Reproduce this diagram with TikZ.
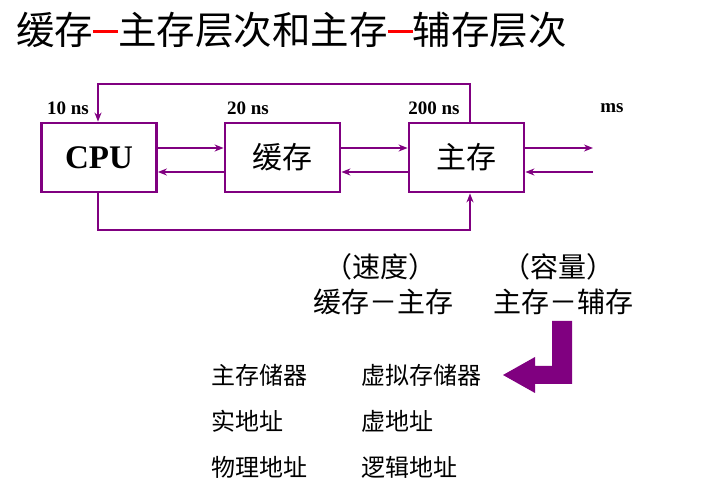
\documentclass[tikz,border=0pt]{standalone}
\usepackage{fontspec}
\setmainfont{Liberation Serif}
\newfontfamily\cjk{Noto Sans CJK SC}
\usetikzlibrary{arrows.meta,positioning}
\definecolor{plum}{HTML}{800080}
\tikzset{>={Stealth[length=9pt,width=7pt]}}
\tikzset{%
    unit/.style={draw=plum, line width=2.8pt, minimum width=115pt, minimum height=69pt, font=\cjk\fontsize{30}{30}\selectfont},
    link/.style={draw=plum, line width=2.6pt},
    time/.style={font=\bfseries\fontsize{19}{19}\selectfont},
    item/.style={anchor=west, font=\cjk\fontsize{24}{24}\selectfont}
}

\begin{document}
\begin{tikzpicture}[x=1pt,y=-1pt]
  \useasboundingbox (0,0) rectangle (702,494);
  % title
  \node[anchor=west, inner sep=0pt, font=\cjk\fontsize{38.5}{38.5}\selectfont] (title) at (16,30)
    {缓存\textcolor{red}{\rule[0.3em]{0.65em}{3pt}}主存层次和主存\textcolor{red}{\rule[0.3em]{0.65em}{3pt}}辅存层次};
  % units
  \node[unit, font=\bfseries\fontsize{33}{33}\selectfont] (cpu) at (99,157.5) {CPU};
  \node[unit] (cache) at (282.5,157.5) {缓存};
  \node[unit] (main) at (466.5,157.5) {主存};
  \node[time] (t1) at (68,108) {10 ns};
  \node[time] (t2) at (248,108) {20 ns};
  \node[time] (t3) at (434,108) {200 ns};
  \node[time] (t4) at (612,108) {ms};
  \coordinate (outr) at (593,148);
  \coordinate (inr) at (593,172);
  % connectors
  \draw[link,->] (cpu.east |- 0,148) -- (cache.west |- 0,148);
  \draw[link,->] (cache.west |- 0,172) -- (cpu.east |- 0,172);
  \draw[link,->] (cache.east |- 0,148) -- (main.west |- 0,148);
  \draw[link,->] (main.west |- 0,172) -- (cache.east |- 0,172);
  \draw[link,->] (main.east |- outr) -- (outr);
  \draw[link,->] (inr) -- (main.east |- inr);
  \draw[link,->] (main.north -| 470,0) -- (470,84) -- (98,84) -- (cpu.north -| 98,0);
  \draw[link,->] (cpu.south -| 98,0) -- (98,230) -- (470,230) -- (main.south -| 470,0);
  % levels
  \node[font=\cjk\fontsize{28}{28}\selectfont] (speed) at (380,267) {（速度）};
  \node[font=\cjk\fontsize{28}{28}\selectfont] (size) at (558,267) {（容量）};
  \node[font=\cjk\fontsize{28}{28}\selectfont] (lvl1) at (383,302) {缓存－主存};
  \node[font=\cjk\fontsize{28}{28}\selectfont] (lvl2) at (563,302) {主存－辅存};
  \fill[plum] (552,321) -- (572,321) -- (572,384) -- (535,384) -- (535,393)
    -- (503,375) -- (535,357) -- (535,366) -- (552,366) -- cycle;
  % names
  \node[item] (a1) at (208,375) {主存储器};
  \node[item] (b1) at (358,375) {虚拟存储器};
  \node[item] (a2) at (208,421) {实地址};
  \node[item] (b2) at (358,421) {虚地址};
  \node[item] (a3) at (208,467) {物理地址};
  \node[item] (b3) at (358,467) {逻辑地址};
\end{tikzpicture}
\end{document}
